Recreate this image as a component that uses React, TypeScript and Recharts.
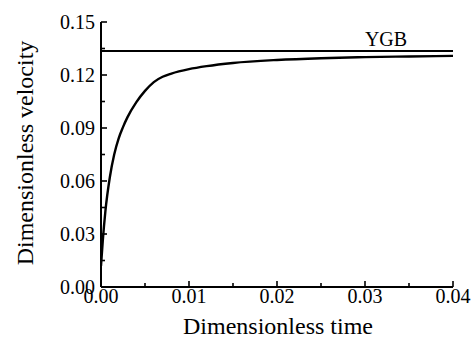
import React from 'react';
import { LineChart, Line, XAxis, YAxis, ReferenceLine } from 'recharts';

// dimensionless time vs dimensionless velocity
const times = [0, 0.0002, 0.0005, 0.001, 0.0015, 0.002, 0.0025, 0.003, 0.004, 0.005, 0.006, 0.007, 0.008, 0.01, 0.012, 0.015, 0.02, 0.025, 0.03, 0.035, 0.04];
const velocities = [0.012, 0.026, 0.043, 0.062, 0.075, 0.084, 0.0905, 0.096, 0.1045, 0.111, 0.116, 0.119, 0.1208, 0.1233, 0.125, 0.1268, 0.1285, 0.1295, 0.1301, 0.1305, 0.1308];
const ygbValue = 0.1336;
const xTicks = [0, 0.005, 0.01, 0.015, 0.02, 0.025, 0.03, 0.035, 0.04];
const yTicks = [0, 0.015, 0.03, 0.045, 0.06, 0.075, 0.09, 0.105, 0.12, 0.135, 0.15];

const data = times.map((t, i) => ({ t, v: velocities[i] }));

const FONT = '"Liberation Serif", "Times New Roman", serif';

const XTick = (props: any) => {
  const { x, y, payload, index } = props;
  const major = index % 2 === 0;
  return (
    <g>
      <line x1={x} x2={x} y1={y} y2={y - (major ? 6 : 4)} stroke="#000" strokeWidth={1.6} />
      {major && (
        <text x={x} y={y + 16} textAnchor="middle" fontSize={20} fontFamily={FONT} fill="#000">
          {Number(payload.value).toFixed(2)}
        </text>
      )}
    </g>
  );
};

const YTick = (props: any) => {
  const { x, y, payload, index } = props;
  const major = index % 2 === 0;
  return (
    <g>
      <line x1={x} x2={x + (major ? 6 : 4)} y1={y} y2={y} stroke="#000" strokeWidth={1.6} />
      {major && (
        <text x={x - 6} y={y + 7} textAnchor="end" fontSize={20} fontFamily={FONT} fill="#000">
          {Number(payload.value).toFixed(2)}
        </text>
      )}
    </g>
  );
};

export default function App() {
  return (
    <div style={{ position: 'absolute', left: 0, top: 0, width: 474, height: 343, background: '#fff' }}>
      <LineChart width={474} height={343} data={data} margin={{ top: 22, right: 21, left: 0, bottom: 0 }}>
        <XAxis
          dataKey="t"
          type="number"
          domain={[0, 0.04]}
          ticks={xTicks}
          interval={0}
          height={56}
          tickSize={0}
          tickMargin={0}
          tickLine={false}
          tick={<XTick />}
          axisLine={{ stroke: '#000', strokeWidth: 2 }}
          allowDataOverflow
        />
        <YAxis
          type="number"
          domain={[0, 0.15]}
          ticks={yTicks}
          interval={0}
          width={101}
          tickSize={0}
          tickMargin={0}
          tickLine={false}
          tick={<YTick />}
          axisLine={{ stroke: '#000', strokeWidth: 2 }}
          allowDataOverflow
        />
        <ReferenceLine
          y={ygbValue}
          stroke="#000"
          strokeWidth={2}
          label={(p: any) => (
            <text
              x={p.viewBox.x + p.viewBox.width - 67}
              y={p.viewBox.y - 5}
              textAnchor="middle"
              fontSize={20}
              fontFamily={FONT}
              fill="#000"
            >
              YGB
            </text>
          )}
        />
        <Line dataKey="v" type="monotone" stroke="#000" strokeWidth={2.4} dot={false} isAnimationActive={false} />
      </LineChart>
      <div
        style={{
          position: 'absolute', left: 278, top: 333, transform: 'translate(-50%, -80%)',
          fontFamily: FONT, fontSize: 24, whiteSpace: 'nowrap', lineHeight: 1,
        }}
      >
        Dimensionless time
      </div>
      <div
        style={{
          position: 'absolute', left: 25, top: 153, transform: 'translate(-50%, -50%) rotate(-90deg)',
          fontFamily: FONT, fontSize: 24, whiteSpace: 'nowrap', lineHeight: 1,
        }}
      >
        Dimensionless velocity
      </div>
    </div>
  );
}
